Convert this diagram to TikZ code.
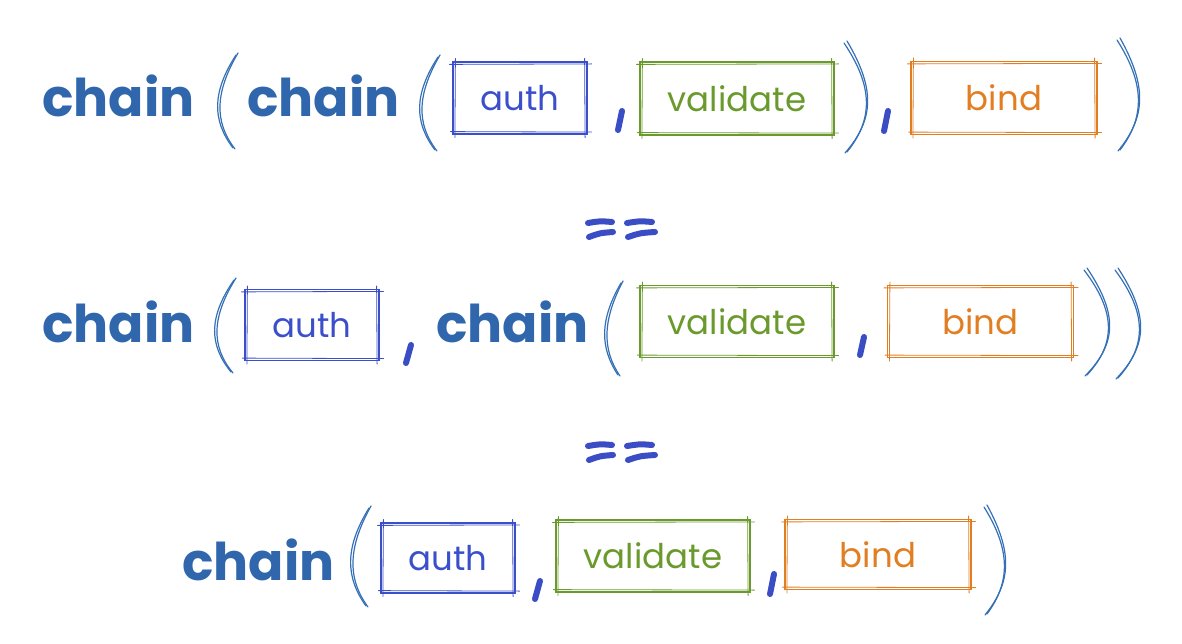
\documentclass[tikz,border=0pt]{standalone}
\usepackage{fontspec}
\setmainfont{Poppins}
\definecolor{chainc}{HTML}{2F66AC}
\definecolor{parc}{HTML}{3470B6}
\definecolor{punc}{HTML}{3A4DC4}
\definecolor{authc}{HTML}{3B4FCB}
\definecolor{valc}{HTML}{6A9A2C}
\definecolor{bindc}{HTML}{E27E22}
\tikzset{
  chaintext/.style={anchor=base west, inner sep=0, text=chainc, font=\fontsize{52}{52}\selectfont\bfseries},
  fnbox/.style={draw=#1, line width=1.2pt, text=#1, inner sep=0, font=\fontsize{34}{34}\selectfont},
  skline/.style={draw=#1, line width=0.8pt, line cap=round},
  parline/.style={draw=parc, line width=1.2pt, line cap=round},
  punline/.style={draw=punc, line width=6pt, line cap=round},
}
\newcommand\skbox[2]{%
  \draw[skline=#2] ([shift={(-3,3)}]#1.north west) -- ([shift={(4,2.5)}]#1.north east);
  \draw[skline=#2] ([shift={(-3,-3)}]#1.north east) -- ([shift={(-2.5,3)}]#1.south east);
  \draw[skline=#2] ([shift={(-2,-3)}]#1.south west) -- ([shift={(4,-2.5)}]#1.south east);
  \draw[skline=#2] ([shift={(3,-3)}]#1.north west) -- ([shift={(2.5,3)}]#1.south west);
}
% left paren: xl, xr, ytop, ybot
\newcommand\lpar[4]{%
  \draw[parline] (#2,#3) .. controls ({(4*#1-#2)/3},{#3+0.4*(#4-#3)}) and ({(4*#1-#2)/3},{#3+0.7*(#4-#3)}) .. ({#2-3},#4);
  \draw[parline] ({#2+2},{#3-2}) .. controls ({(4*#1-#2)/3+3},{#3+0.4*(#4-#3)}) and ({(4*#1-#2)/3+2},{#3+0.72*(#4-#3)}) .. ({#2-1},{#4+1});
}
% right paren: xl, xr, ytop, ybot
\newcommand\rpar[4]{%
  \draw[parline] (#1,#3) .. controls ({(4*#2-#1)/3},{#3+0.4*(#4-#3)}) and ({(4*#2-#1)/3},{#3+0.7*(#4-#3)}) .. ({#1+3},#4);
  \draw[parline] ({#1+3},{#3-2}) .. controls ({(4*#2-#1)/3+2},{#3+0.42*(#4-#3)}) and ({(4*#2-#1)/3+1},{#3+0.7*(#4-#3)}) .. ({#1+1},{#4+1});
}
\begin{document}
\begin{tikzpicture}[x=1pt,y=-1pt]
\useasboundingbox (0,0) rectangle (1182,644);

% ---------- row 1 ----------
\node[chaintext] (c11) at (42,117) {chain};
\node[chaintext] (c12) at (247,117) {chain};
\node[fnbox=authc, minimum width=134, minimum height=72] (a1) at (520,98) {auth};
\node[fnbox=valc, minimum width=194, minimum height=73] (v1) at (737,98.5) {validate};
\node[fnbox=bindc, minimum width=186, minimum height=73] (b1) at (1004,98) {bind};
\skbox{a1}{authc}\skbox{v1}{valc}\skbox{b1}{bindc}
\lpar{218}{236}{55}{148}
\lpar{420}{438}{57}{150}
\rpar{844}{866}{43}{152}
\rpar{1117}{1138}{40}{150}
\coordinate (k11a) at (622,111); \coordinate (k11b) at (618,130);
\coordinate (k12a) at (888,111); \coordinate (k12b) at (884,131);
\draw[punline] (k11a) -- (k11b);
\draw[punline] (k12a) -- (k12b);

% ---------- equals 1 ----------
\coordinate (e1a) at (588,223); \coordinate (e1b) at (612,222);
\coordinate (e1c) at (589,237); \coordinate (e1d) at (613,232);
\coordinate (e1e) at (627,223); \coordinate (e1f) at (652,222);
\coordinate (e1g) at (628,237); \coordinate (e1h) at (655,232);
\draw[punline] (e1a) .. controls (600,221) .. (e1b);
\draw[punline] (e1c) .. controls (600,233) .. (e1d);
\draw[punline] (e1e) .. controls (640,221) .. (e1f);
\draw[punline] (e1g) .. controls (640,233) .. (e1h);

% ---------- row 2 ----------
\node[chaintext] (c21) at (42,342) {chain};
\node[chaintext] (c22) at (436,342) {chain};
\node[fnbox=authc, minimum width=134, minimum height=71] (a2) at (312,325) {auth};
\node[fnbox=valc, minimum width=194, minimum height=72] (v2) at (737,321.5) {validate};
\node[fnbox=bindc, minimum width=186, minimum height=72] (b2) at (980.5,321.5) {bind};
\skbox{a2}{authc}\skbox{v2}{valc}\skbox{b2}{bindc}
\lpar{215}{234}{280}{372}
\lpar{605}{621}{283}{375}
\rpar{1084}{1108}{270}{375}
\rpar{1115}{1139}{270}{378}
\coordinate (k21a) at (411,345); \coordinate (k21b) at (406,363);
\coordinate (k22a) at (864,337); \coordinate (k22b) at (860,355);
\draw[punline] (k21a) -- (k21b);
\draw[punline] (k22a) -- (k22b);

% ---------- equals 2 ----------
\coordinate (e2a) at (588,446); \coordinate (e2b) at (612,445);
\coordinate (e2c) at (589,460); \coordinate (e2d) at (613,455);
\coordinate (e2e) at (627,446); \coordinate (e2f) at (652,445);
\coordinate (e2g) at (628,460); \coordinate (e2h) at (655,455);
\draw[punline] (e2a) .. controls (600,444) .. (e2b);
\draw[punline] (e2c) .. controls (600,456) .. (e2d);
\draw[punline] (e2e) .. controls (640,444) .. (e2f);
\draw[punline] (e2g) .. controls (640,456) .. (e2h);

% ---------- row 3 ----------
\node[chaintext] (c31) at (182,580) {chain};
\node[fnbox=authc, minimum width=134, minimum height=70] (a3) at (448,558) {auth};
\node[fnbox=valc, minimum width=194, minimum height=72] (v3) at (653,556) {validate};
\node[fnbox=bindc, minimum width=186, minimum height=70] (b3) at (878,554.5) {bind};
\skbox{a3}{authc}\skbox{v3}{valc}\skbox{b3}{bindc}
\lpar{351}{369}{508}{606}
\rpar{984}{1004}{507}{614}
\coordinate (k31a) at (540,581); \coordinate (k31b) at (535,599);
\coordinate (k32a) at (774,574); \coordinate (k32b) at (770,594);
\draw[punline] (k31a) -- (k31b);
\draw[punline] (k32a) -- (k32b);
\end{tikzpicture}
\end{document}
